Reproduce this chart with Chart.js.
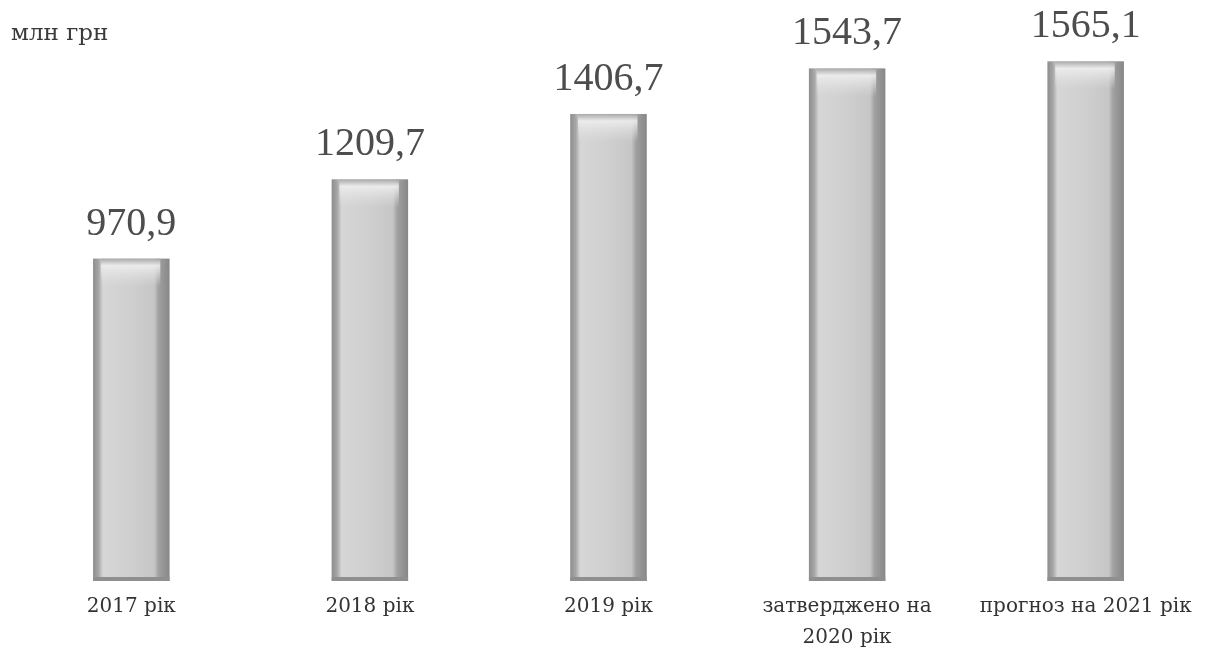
<!DOCTYPE html>
<html>
<head>
<meta charset="utf-8">
<script src="https://cdn.jsdelivr.net/npm/chart.js@4"></script>
<style>
  html, body { margin: 0; padding: 0; background: #fff; }
  #wrap { position: relative; width: 1205px; height: 663px; }
  #unit { position: absolute; left: 11px; top: 19px; font-family: "DejaVu Serif", "Liberation Serif", serif; font-size: 23px; color: #3a3a3a; }
</style>
</head>
<body>
<div id="wrap">
  <canvas id="c" width="1205" height="663"></canvas>
  <div id="unit">млн грн</div>
</div>
<script>
const categories = ['2017 рік', '2018 рік', '2019 рік', ['затверджено на', '2020 рік'], 'прогноз на 2021 рік'];
const values = [970.9, 1209.7, 1406.7, 1543.7, 1565.1];
const valueLabels = ['970,9', '1209,7', '1406,7', '1543,7', '1565,1'];
const yMax = 1750;

const shadePlugin = {
  id: 'shade',
  afterDatasetsDraw(chart) {
    const ctx = chart.ctx;
    const meta = chart.getDatasetMeta(0);
    meta.data.forEach((bar, i) => {
      const { x, y, base, width } = bar.getProps(['x', 'y', 'base', 'width'], true);
      const l = x - width / 2, r = x + width / 2;
      const h = base - y;
      ctx.save();
      const g = ctx.createLinearGradient(l, 0, r, 0);
      g.addColorStop(0, '#8e8e8e');
      g.addColorStop(0.07, '#a6a6a6');
      g.addColorStop(0.13, '#d6d6d6');
      g.addColorStop(0.5, '#cfcfcf');
      g.addColorStop(0.8, '#c6c6c6');
      g.addColorStop(0.86, '#a0a0a0');
      g.addColorStop(1, '#878787');
      ctx.fillStyle = g;
      ctx.fillRect(l, y, width, h);
      const gt = ctx.createLinearGradient(0, y, 0, y + 28);
      gt.addColorStop(0, 'rgba(165,165,165,0.9)');
      gt.addColorStop(0.25, 'rgba(238,238,238,0.9)');
      gt.addColorStop(1, 'rgba(225,225,225,0)');
      ctx.fillStyle = gt;
      ctx.fillRect(l + width * 0.1, y, width * 0.78, 28);
      ctx.fillStyle = '#8f8f8f';
      ctx.fillRect(l, base - 4, width, 4);
      ctx.restore();

      ctx.save();
      ctx.font = '40px "Liberation Serif", "DejaVu Serif", serif';
      ctx.fillStyle = '#4d4d4d';
      ctx.textAlign = 'center';
      ctx.textBaseline = 'alphabetic';
      ctx.fillText(valueLabels[i], x, y - 24);
      ctx.restore();
    });
  }
};

new Chart(document.getElementById('c'), {
  type: 'bar',
  data: {
    labels: categories,
    datasets: [{
      data: values,
      backgroundColor: '#c8c8c8',
      borderWidth: 0,
      barPercentage: 0.32,
      categoryPercentage: 1.0
    }]
  },
  options: {
    responsive: false,
    animation: false,
    devicePixelRatio: 1,
    layout: { padding: { left: 12, right: 0, top: 0, bottom: 0 } },
    plugins: { legend: { display: false }, tooltip: { enabled: false } },
    scales: {
      x: {
        grid: { display: false, drawTicks: false },
        border: { display: false },
        ticks: {
          padding: 10,
          color: '#333',
          maxRotation: 0,
          autoSkip: false,
          font: { family: '"DejaVu Serif", "Liberation Serif", serif', size: 20, lineHeight: 1.55 }
        }
      },
      y: {
        display: false,
        min: 0,
        max: yMax
      }
    }
  },
  plugins: [shadePlugin]
});
</script>
</body>
</html>
